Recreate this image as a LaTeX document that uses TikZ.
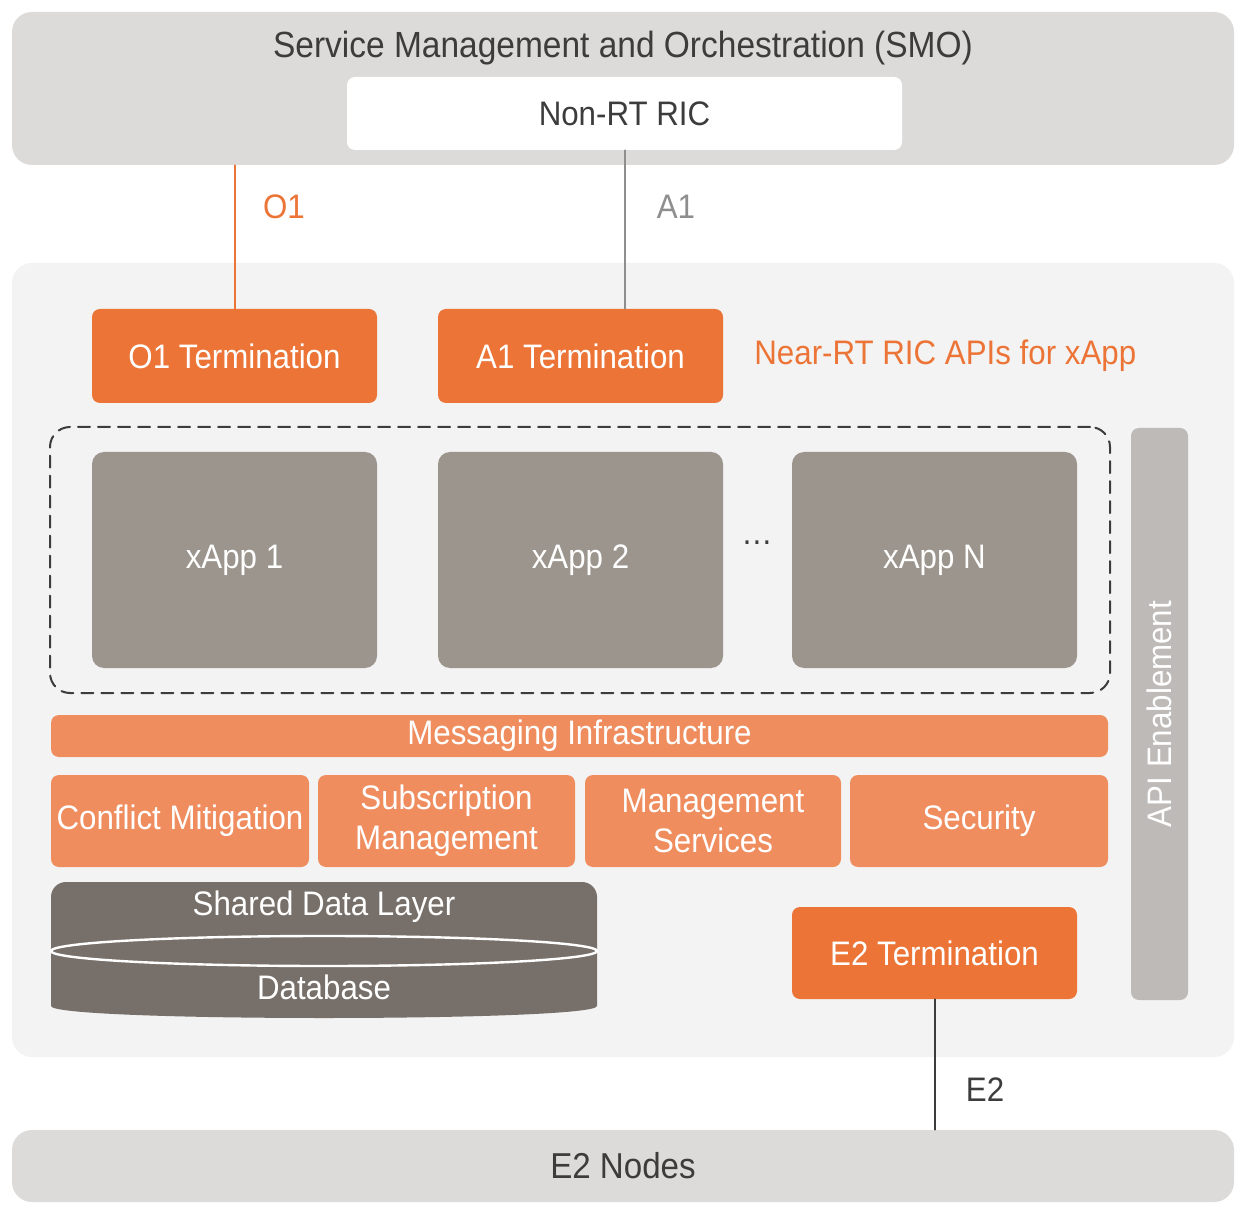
\documentclass[tikz,border=0pt]{standalone}
\usepackage{fontspec}
\setmainfont{Liberation Sans}[FakeStretch=0.92]
\definecolor{bandgray}{HTML}{DDDBD9}
\definecolor{bggray}{HTML}{F3F3F3}
\definecolor{orangedark}{HTML}{EC7436}
\definecolor{orangelight}{HTML}{EF8D5F}
\definecolor{xappgray}{HTML}{9C958D}
\definecolor{dbgray}{HTML}{77706A}
\definecolor{apigray}{HTML}{BDBAB7}
\definecolor{textdark}{HTML}{3C3C3C}
\definecolor{linegray}{HTML}{8E8E8E}
\begin{document}
\begin{tikzpicture}[line cap=round,line join=round,x=0.5pt,y=-0.5pt,
		txt/.style={font=\fontsize{17}{20}\selectfont,inner sep=0pt},
		box/.style={txt,rounded corners=4pt,text=white,align=center},
		termbox/.style={box,fill=orangedark,minimum width=142.5pt,minimum height=47pt},
		svcbox/.style={box,fill=orangelight,minimum height=46pt},
		appbox/.style={box,fill=xappgray,rounded corners=6pt,minimum width=142.5pt,minimum height=108pt},
		band/.style={rounded corners=10pt,fill=bandgray,inner sep=0pt,minimum width=611pt}]
		\useasboundingbox[fill=white] (0,0) rectangle (1246,1218);
		% top and bottom bands
		\node[band,minimum height=76.5pt] (smo) at (623,88.5) {};
		\node[txt,text=textdark,font=\fontsize{18.2}{20}\selectfont] (smotitle) at (623,48) {Service Management and Orchestration (SMO)};
		\node[box,fill=white,text=textdark,minimum width=277.5pt,minimum height=36.5pt] (nonrt) at (624.5,113.5) {Non-RT RIC};
		\node[band,minimum height=36pt,txt,text=textdark,font=\fontsize{18}{20}\selectfont] (e2n) at (623,1166) {E2 Nodes};
		% near-RT RIC area
		\node[rounded corners=10pt,fill=bggray,inner sep=0pt,minimum width=611pt,minimum height=397pt] (near) at (623,660) {};
		\node[termbox] (o1t) at (234.5,356) {O1 Termination};
		\node[termbox] (a1t) at (580.5,356) {A1 Termination};
		\node[txt,text=orangedark,anchor=west] (apis) at (754,355.5) {Near-RT RIC APIs for xApp};
		\node[draw=textdark,line width=1pt,dash pattern=on 6pt off 4pt,rounded corners=10pt,minimum width=530pt,minimum height=133pt] (xapps) at (580,560) {};
		\node[appbox] (xapp1) at (234.5,560) {xApp 1};
		\node[appbox] (xapp2) at (580.5,560) {xApp 2};
		\node[appbox] (xappn) at (934.5,560) {xApp N};
		\node[txt,text=textdark] (dots) at (757,543) {\dots};
		\node[box,fill=apigray,rotate=90,minimum width=286pt,minimum height=28.5pt] (api) at (1159.5,714) {API Enablement};
		\node[box,fill=orangelight,minimum width=528.5pt,minimum height=21pt] (msg) at (579.5,736) {Messaging Infrastructure};
		\node[svcbox,minimum width=129pt] (conflict) at (180,821) {Conflict Mitigation};
		\node[svcbox,minimum width=128.5pt] (subs) at (446.5,821) {Subscription\\Management};
		\node[svcbox,minimum width=128pt] (mgmt) at (713,821) {Management\\Services};
		\node[svcbox,minimum width=129pt] (sec) at (979,821) {Security};
		% shared data layer cylinder
		\fill[dbgray] (51,1006) -- (51,897) arc[start angle=180,end angle=270,radius=15] -- (582,882) arc[start angle=270,end angle=360,radius=15] -- (597,1006) .. controls (597,1022) and (51,1022) .. (51,1006) -- cycle;
		\draw[white,line width=1.2pt] (324,951) ellipse [x radius=273,y radius=15];
		\node[txt,text=white] (sdl) at (324,907) {Shared Data Layer};
		\node[txt,text=white] (db) at (324,987) {Database};
		\node[termbox,minimum height=46pt] (e2t) at (934.5,953) {E2 Termination};
		% interfaces
		\draw[orangedark,line width=1pt] (o1t.north) -- (o1t.north |- smo.south);
		\draw[linegray,line width=1pt] (nonrt.south) -- (nonrt.south |- a1t.north);
		\draw[textdark,line width=1pt] (e2t.south) -- (e2t.south |- e2n.north);
		\node[txt,text=orangedark] (o1lab) at (284,207) {O1};
		\node[txt,text=linegray] (a1lab) at (676,207) {A1};
		\node[txt,text=textdark] (e2lab) at (985,1090) {E2};
	\end{tikzpicture}
\end{document}
